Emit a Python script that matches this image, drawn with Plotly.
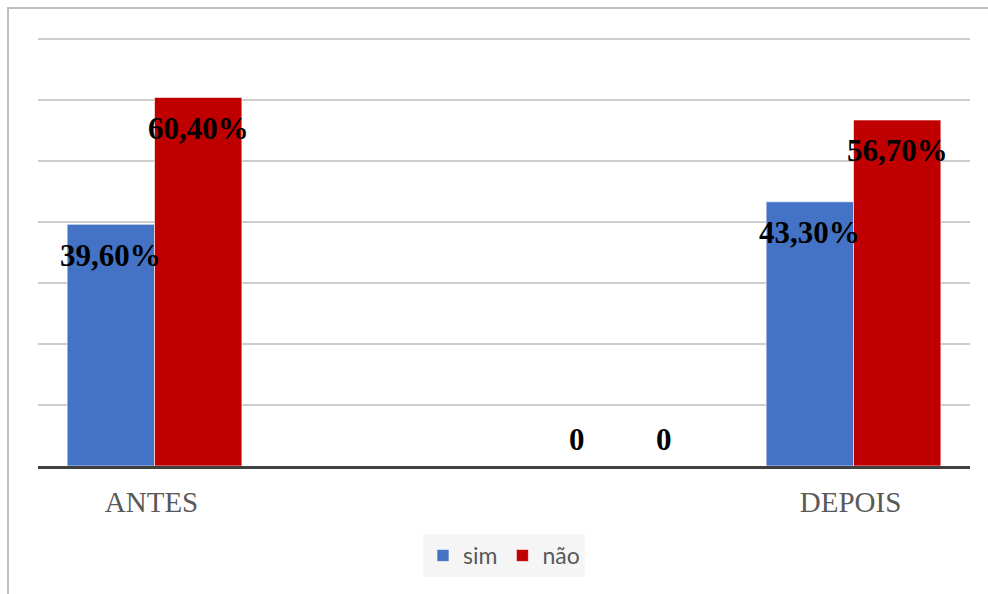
import plotly.graph_objects as go

# Survey answers before and after, in percent
categories = ["ANTES", "", "", "DEPOIS"]
sim = [39.6, None, 0, 43.3]
nao = [60.4, None, 0, 56.7]
series_names = ["sim", "não"]
series_colors = ["#4472C4", "#C00000"]

W, H = 988, 594
ML, MR, MT, MB = 38, 18, 37, 128
plot_w = W - ML - MR
plot_h = H - MT - MB

x = list(range(len(categories)))
bargap = 0.25
bar_px = plot_w / len(categories) * (1 - bargap) / 2

fig = go.Figure()
for name, vals, col in zip(series_names, [sim, nao], series_colors):
    fig.add_trace(go.Bar(
        x=x, y=vals, name=name,
        marker=dict(color=col, line=dict(color="rgba(255,255,255,0.6)", width=1)),
        hoverinfo="skip",
    ))


def fmt(v):
    if v == 0:
        return "0"
    return f"{v:.2f}".replace(".", ",") + "%"


annotations = []
for k, vals in enumerate([sim, nao]):
    shift = (-1 if k == 0 else 1) * bar_px / 2
    for i, v in enumerate(vals):
        if v is None:
            continue
        annotations.append(dict(
            x=i, y=v, xref="x", yref="y",
            text=fmt(v), showarrow=False,
            xshift=shift, yshift=(-31 if v > 0 else 27),
            yanchor="middle", xanchor="center",
            font=dict(family="Liberation Serif", size=31, color="#000000", weight="bold"),
        ))

# outer chart frame (left and top edges visible)
px2x = lambda p: (p - ML) / plot_w
py2y = lambda p: (H - MB - p) / plot_h
shapes = [dict(type="rect", xref="paper", yref="paper",
               x0=px2x(8), x1=px2x(W + 10), y0=py2y(H + 10), y1=py2y(8),
               line=dict(color="#BFBFBF", width=2), fillcolor="rgba(0,0,0,0)",
               layer="below")]

fig.update_layout(
    width=W, height=H,
    margin=dict(l=ML, r=MR, t=MT, b=MB),
    paper_bgcolor="white", plot_bgcolor="white",
    barmode="group", bargap=bargap, bargroupgap=0,
    showlegend=True,
    legend=dict(orientation="h", x=0.5, xanchor="center", y=py2y(534), yanchor="top",
                bgcolor="#F5F5F5", font=dict(family="Lato", size=23, color="#595959"),
                itemwidth=30, traceorder="normal"),
    annotations=annotations,
    shapes=shapes,
    xaxis=dict(range=[-0.5, len(categories) - 0.5], tickvals=x, ticktext=categories,
               showgrid=False, showline=True, linecolor="#404040", linewidth=3,
               ticks="", ticklabelstandoff=8, ticklabelshift=-3,
               tickfont=dict(family="Liberation Serif", size=29, color="#595959"),
               zeroline=False),
    yaxis=dict(range=[0, 70.3], dtick=10, showticklabels=False, showgrid=True,
               gridcolor="#CDCDCD", gridwidth=2, zeroline=False, showline=False),
)

fig.write_html("out.html")
